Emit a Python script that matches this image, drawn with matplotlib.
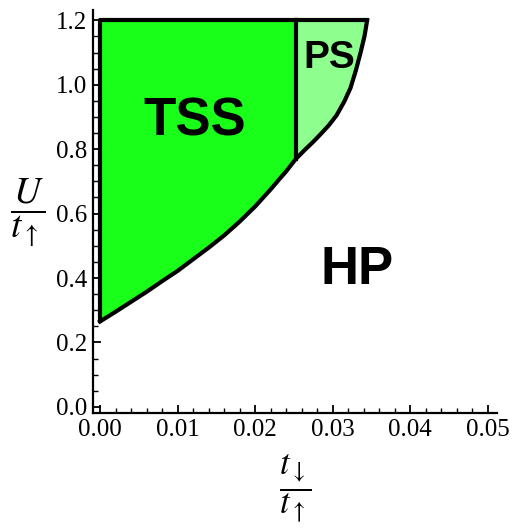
import matplotlib
matplotlib.use("Agg")
import matplotlib.pyplot as plt
import numpy as np
from matplotlib.ticker import MultipleLocator

# boundary curve between the green phases and HP
curve_x = [0.0, 0.002, 0.004, 0.006, 0.008, 0.010, 0.012, 0.014, 0.016,
           0.018, 0.020, 0.022, 0.0232, 0.024, 0.02526, 0.0265, 0.0275,
           0.0285, 0.0295, 0.0305, 0.0315, 0.0323, 0.0330, 0.0336, 0.0341,
           0.03445]
curve_y = [0.265, 0.295, 0.326, 0.357, 0.390, 0.422, 0.458, 0.494, 0.532,
           0.575, 0.622, 0.675, 0.709, 0.731, 0.770, 0.800, 0.823,
           0.848, 0.874, 0.905, 0.948, 0.990, 1.045, 1.100, 1.150,
           1.2]

# TSS / PS boundary and top of the plotted range
x_split = 0.02526
u_top = 1.2

labels = ["TSS", "PS", "HP"]
label_pos = [(0.0122, 0.886), (0.0295, 1.084), (0.0331, 0.424)]
label_size = [38, 28, 38]

x_ticks = [0.00, 0.01, 0.02, 0.03, 0.04, 0.05]
y_ticks = [0.0, 0.2, 0.4, 0.6, 0.8, 1.0, 1.2]

plt.rcParams["mathtext.fontset"] = "stix"

fig = plt.figure(figsize=(5.14, 5.31), dpi=100)
ax = fig.add_axes([0.181, 0.222, 0.786, 0.759])

cx = np.array(curve_x)
cy = np.array(curve_y)
y_split = np.interp(x_split, cx, cy)

# TSS region: x=0 .. x_split, between curve and top
m = cx < x_split
tss_x = np.concatenate([[0.0], cx[m], [x_split, x_split]])
tss_y = np.concatenate([[u_top], cy[m], [y_split, u_top]])
ax.fill(tss_x, tss_y, color="#1aff1a", lw=0, zorder=1)

# PS region: x_split .. curve
m2 = cx > x_split
ps_x = np.concatenate([[x_split], cx[m2], [x_split]])
ps_y = np.concatenate([[y_split], cy[m2], [u_top]])
ax.fill(ps_x, ps_y, color="#8eff8e", lw=0, zorder=1)

# outlines
lw = 3.0
ax.plot(cx, cy, color="black", lw=lw, zorder=3, solid_joinstyle="round")
ax.plot([0, 0, cx[-1]], [cy[0], u_top, u_top], color="black", lw=lw, zorder=3)
ax.plot([x_split, x_split], [y_split, u_top], color="black", lw=lw, zorder=3)

for txt, (tx, ty), fs in zip(labels, label_pos, label_size):
    ax.text(tx, ty, txt, fontsize=fs, fontweight="bold", family="Liberation Sans",
            ha="center", va="center", zorder=4)

ax.set_xlim(-0.0009, 0.0512)
ax.set_ylim(-0.0196, 1.232)
ax.spines["top"].set_visible(False)
ax.spines["right"].set_visible(False)
ax.spines["left"].set_linewidth(1.6)
ax.spines["bottom"].set_linewidth(1.6)

ax.set_xticks(x_ticks)
ax.set_yticks(y_ticks)
ax.set_xticklabels([f"{v:.2f}" for v in x_ticks])
ax.set_yticklabels([f"{v:.1f}" for v in y_ticks])
ax.xaxis.set_minor_locator(MultipleLocator(0.002))
ax.yaxis.set_minor_locator(MultipleLocator(0.05))
ax.tick_params(which="major", direction="in", length=6, width=1.3, pad=4)
ax.tick_params(which="minor", direction="in", length=3.5, width=1.0)
for lab in ax.get_xticklabels() + ax.get_yticklabels():
    lab.set_family("Liberation Serif")
    lab.set_fontsize(18)

fig.text(0.574, 0.080, r"$\dfrac{t_{\downarrow}}{t_{\uparrow}}$", fontsize=25,
         ha="center", va="center")
fig.text(0.054, 0.600, r"$\dfrac{U}{t_{\uparrow}}$", fontsize=27,
         ha="center", va="center")

fig.savefig("out.png", dpi=100)
